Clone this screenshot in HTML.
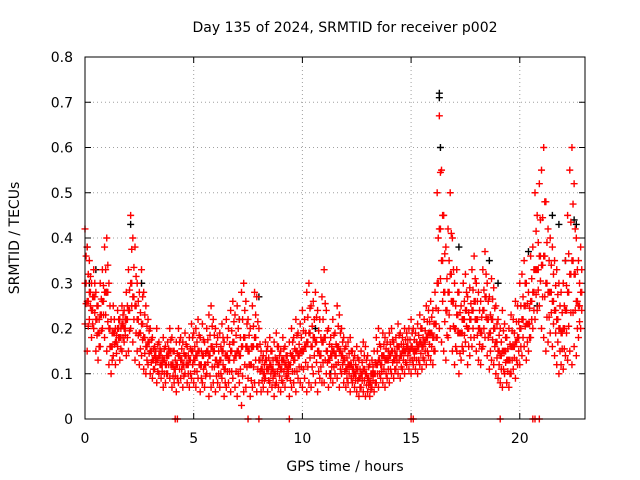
<!DOCTYPE html>
<html><head><meta charset="utf-8"><style>
body{margin:0;background:#fff;}
svg{display:block;font-family:"DejaVu Sans","Liberation Sans",sans-serif;}
</style></head><body>
<svg id="chart" width="640" height="480">
<rect width="640" height="480" fill="#fff"/>
<text x="345" y="32" font-size="14" text-anchor="middle">Day 135 of 2024, SRMTID for receiver p002</text>
<text x="345" y="471" font-size="14" text-anchor="middle">GPS time / hours</text>
<text transform="translate(19,238) rotate(-90)" font-size="14" text-anchor="middle">SRMTID / TECUs</text>
<g id="grid"></g>
<g id="axes"></g>
<g id="black"></g>
<g id="red"></g>
<rect x="85" y="57" width="500" height="362" fill="none" stroke="#000" stroke-width="1"/>
</svg>
<script>
const xTicks=[0,5,10,15,20];
const yTicks=[0,0.1,0.2,0.3,0.4,0.5,0.6,0.7,0.8];
const yTickLabels=["0","0.1","0.2","0.3","0.4","0.5","0.6","0.7","0.8"];
const tStart=0, tStep=0.1;
const redHigh=[0.42,0.38,0.35,0.30,0.33,0.28,0.25,0.30,0.33,0.38,
0.40,0.30,0.22,0.25,0.20,0.24,0.22,0.25,0.24,0.28,
0.33,0.45,0.40,0.38,0.30,0.28,0.33,0.28,0.25,0.22,
0.20,0.18,0.16,0.20,0.17,0.15,0.18,0.16,0.17,0.20,
0.18,0.15,0.17,0.20,0.18,0.17,0.19,0.16,0.18,0.21,
0.19,0.20,0.22,0.18,0.21,0.17,0.20,0.23,0.25,0.22,
0.20,0.18,0.19,0.21,0.17,0.22,0.20,0.24,0.26,0.23,
0.25,0.22,0.28,0.30,0.26,0.22,0.20,0.25,0.28,0.27,
0.20,0.15,0.14,0.17,0.16,0.18,0.15,0.17,0.19,0.16,
0.15,0.18,0.16,0.14,0.17,0.20,0.18,0.22,0.19,0.21,
0.24,0.22,0.28,0.30,0.25,0.26,0.28,0.24,0.22,0.27,
0.33,0.24,0.20,0.18,0.22,0.19,0.25,0.23,0.20,0.18,
0.16,0.17,0.18,0.15,0.14,0.16,0.13,0.15,0.17,0.16,
0.14,0.12,0.13,0.15,0.18,0.20,0.16,0.19,0.18,0.17,
0.19,0.20,0.17,0.18,0.21,0.19,0.18,0.20,0.19,0.20,
0.22,0.20,0.19,0.21,0.23,0.20,0.22,0.25,0.24,0.26,
0.24,0.28,0.50,0.67,0.55,0.45,0.38,0.42,0.50,0.40,
0.30,0.33,0.28,0.25,0.30,0.32,0.27,0.29,0.33,0.36,
0.30,0.28,0.26,0.33,0.37,0.30,0.27,0.31,0.29,0.25,
0.22,0.20,0.24,0.21,0.18,0.20,0.23,0.22,0.26,0.25,
0.30,0.32,0.35,0.30,0.28,0.36,0.38,0.50,0.45,0.52,
0.55,0.60,0.48,0.42,0.40,0.38,0.35,0.33,0.30,0.28,
0.30,0.35,0.45,0.55,0.60,0.52,0.40,0.35,0.38];
const redMid=[0.30,0.26,0.28,0.24,0.27,0.22,0.19,0.23,0.26,0.28,
0.28,0.20,0.16,0.19,0.17,0.20,0.18,0.21,0.20,0.22,
0.24,0.30,0.27,0.25,0.22,0.19,0.21,0.18,0.16,0.17,
0.15,0.13,0.14,0.13,0.14,0.12,0.13,0.12,0.14,0.15,
0.12,0.11,0.12,0.14,0.13,0.12,0.14,0.12,0.13,0.15,
0.13,0.14,0.15,0.12,0.14,0.12,0.15,0.14,0.16,0.15,
0.13,0.12,0.13,0.15,0.11,0.14,0.13,0.15,0.17,0.14,
0.15,0.14,0.16,0.18,0.16,0.15,0.12,0.16,0.18,0.16,
0.13,0.11,0.10,0.13,0.11,0.12,0.11,0.10,0.13,0.12,
0.11,0.13,0.12,0.11,0.12,0.14,0.13,0.15,0.14,0.15,
0.15,0.16,0.17,0.19,0.16,0.18,0.17,0.15,0.14,0.17,
0.18,0.15,0.13,0.14,0.15,0.14,0.16,0.15,0.14,0.13,
0.11,0.12,0.12,0.11,0.10,0.11,0.09,0.10,0.11,0.10,
0.09,0.08,0.10,0.10,0.12,0.13,0.12,0.14,0.13,0.13,
0.14,0.15,0.13,0.14,0.16,0.14,0.15,0.15,0.16,0.15,
0.16,0.15,0.15,0.16,0.17,0.16,0.17,0.18,0.19,0.19,
0.18,0.21,0.30,0.42,0.35,0.28,0.24,0.28,0.32,0.26,
0.20,0.23,0.19,0.19,0.22,0.24,0.20,0.22,0.24,0.26,
0.22,0.20,0.19,0.24,0.27,0.22,0.19,0.22,0.20,0.17,
0.15,0.14,0.15,0.15,0.13,0.13,0.16,0.16,0.17,0.18,
0.20,0.22,0.25,0.21,0.21,0.26,0.28,0.33,0.33,0.36,
0.34,0.36,0.30,0.28,0.28,0.26,0.24,0.22,0.20,0.19,
0.20,0.24,0.28,0.32,0.35,0.32,0.26,0.25,0.28];
const redLow=[0.21,0.15,0.22,0.18,0.20,0.15,0.13,0.16,0.20,0.18,
0.15,0.12,0.10,0.14,0.12,0.16,0.13,0.15,0.17,0.14,
0.15,0.20,0.17,0.13,0.15,0.12,0.14,0.11,0.10,0.12,
0.10,0.09,0.11,0.08,0.10,0.09,0.07,0.08,0.10,0.09,
0.07,0.08,0.06,0.08,0.09,0.07,0.10,0.08,0.07,0.09,
0.08,0.07,0.09,0.06,0.08,0.07,0.10,0.05,0.07,0.08,
0.06,0.08,0.07,0.09,0.05,0.07,0.08,0.06,0.09,0.07,
0.05,0.08,0.03,0.06,0.07,0.09,0.05,0.07,0.08,0.06,
0.08,0.06,0.07,0.09,0.06,0.08,0.07,0.05,0.08,0.07,
0.06,0.08,0.07,0.09,0.05,0.07,0.08,0.06,0.09,0.08,
0.07,0.09,0.06,0.08,0.07,0.10,0.08,0.06,0.09,0.08,
0.08,0.10,0.07,0.09,0.08,0.10,0.09,0.07,0.10,0.08,
0.07,0.08,0.06,0.08,0.07,0.06,0.05,0.07,0.06,0.05,
0.06,0.05,0.07,0.06,0.08,0.07,0.09,0.08,0.07,0.09,
0.08,0.10,0.09,0.11,0.10,0.09,0.11,0.10,0.12,0.11,
0.10,0.12,0.11,0.10,0.12,0.11,0.13,0.12,0.14,0.13,
0.12,0.15,0.18,0.20,0.17,0.15,0.13,0.18,0.20,0.15,
0.12,0.15,0.10,0.13,0.15,0.17,0.12,0.14,0.16,0.18,
0.15,0.13,0.12,0.16,0.18,0.14,0.11,0.13,0.12,0.10,
0.09,0.08,0.07,0.10,0.08,0.07,0.10,0.11,0.09,0.12,
0.12,0.14,0.16,0.13,0.15,0.18,0.20,0.22,0.24,0.25,
0.20,0.18,0.15,0.17,0.19,0.16,0.14,0.12,0.10,0.12,
0.11,0.14,0.13,0.15,0.12,0.16,0.14,0.18,0.20];
const zeroTimes=[4.15,4.25,7.5,8.0,9.4,15.0,15.1,19.1,20.6,20.7,20.9];
const blackTimes=[0.1,0.2,0.5,1.0,2.1,2.6,7.1,8.0,10.6,11.3,16.3,16.3,16.35,17.2,18.6,19.0,20.4,20.8,21.5,21.8,22.1,22.5,22.6];
const blackValues=[0.38,0.30,0.33,0.28,0.43,0.30,0.22,0.27,0.20,0.10,0.72,0.71,0.60,0.38,0.35,0.30,0.37,0.25,0.45,0.43,0.35,0.44,0.43];

const X0=85,X1=585,Y0=419,Y1=57,XMAX=23,YMAX=0.8;
const sx=t=>X0+(t/XMAX)*(X1-X0);
const sy=v=>Y0-(v/YMAX)*(Y0-Y1);
const NS="http://www.w3.org/2000/svg";
const grid=document.getElementById('grid'),axes=document.getElementById('axes');
function mk(tag,attrs,parent){const e=document.createElementNS(NS,tag);for(const k in attrs)e.setAttribute(k,attrs[k]);parent.appendChild(e);return e;}
yTicks.forEach((v,i)=>{
  const y=sy(v);
  if(i>0&&i<yTicks.length-1){const g=mk('line',{x1:X0,x2:X1,y1:y,y2:y,stroke:'#a0a0a0','stroke-dasharray':'1,3'},grid);
  
  }
  mk('line',{x1:X0,x2:X0+6,y1:y,y2:y,stroke:'#000'},axes);
  mk('line',{x1:X1,x2:X1-6,y1:y,y2:y,stroke:'#000'},axes);
  const t=mk('text',{x:73,y:y+5,'font-size':14,'text-anchor':'end'},axes);t.textContent=yTickLabels[i];
  
  
});
xTicks.forEach(v=>{
  const x=sx(v);
  if(v>0){const g=mk('line',{x1:x,x2:x,y1:Y0,y2:Y1,stroke:'#a0a0a0','stroke-dasharray':'1,3'},grid);
  
  }
  mk('line',{x1:x,x2:x,y1:Y0,y2:Y0-6,stroke:'#000'},axes);
  mk('line',{x1:x,x2:x,y1:Y1,y2:Y1+6,stroke:'#000'},axes);
  const t=mk('text',{x:x,y:443,'font-size':14,'text-anchor':'middle'},axes);t.textContent=String(v);
  
  
});
function plus(g,t,v,color,name){
  const x=sx(t),y=sy(v);
  const p=mk('path',{d:`M${x-3.5},${y}h7M${x},${y-3.5}v7`,stroke:color,'stroke-width':1.4,fill:'none'},g);
  
  
}
const bg=document.getElementById('black'),rg=document.getElementById('red');
blackTimes.forEach((t,i)=>plus(bg,t,blackValues[i],'#000','black-point'));
[redHigh,redMid,redLow].forEach(arr=>arr.forEach((v,i)=>{
  const t=tStart+i*tStep;
  plus(rg,t,v,'#f00','red-point');
  plus(rg,t+0.05,(v+redMid[i])/2,'#f00','red-point');
}));
zeroTimes.forEach(t=>plus(rg,t,0,'#f00','red-zero-point'));
</script>
</body></html>
